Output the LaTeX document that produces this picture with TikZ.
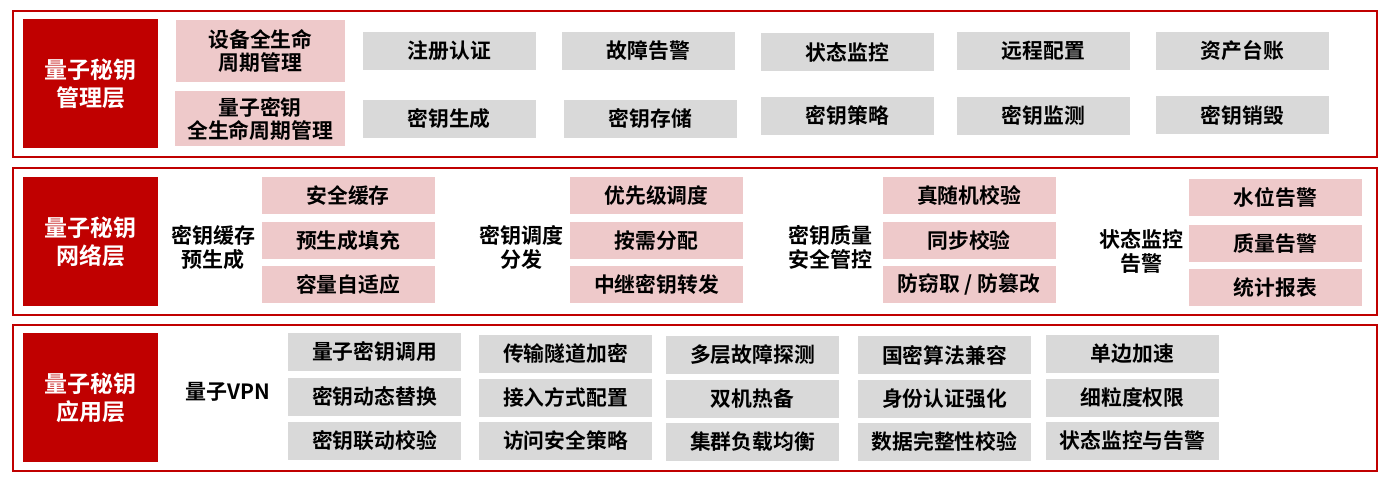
\documentclass[tikz,border=0pt]{standalone}
\usepackage{fontspec}
\setmainfont{Noto Sans CJK SC}[BoldFont={* Bold}]
\usepackage{tikz}
\usetikzlibrary{positioning}
\definecolor{darkred}{HTML}{C00000}
\definecolor{pinkfill}{HTML}{EEC9CA}
\definecolor{grayfill}{HTML}{D9D9D9}

\begin{document}
\begin{tikzpicture}[x=1pt, y=-1pt,
    every node/.style={font=\bfseries\fontsize{20.8}{23}\selectfont, align=center, inner sep=0pt},
    frame/.style={draw=darkred, line width=2pt},
    title/.style={fill=darkred, text=white, minimum width=135pt, minimum height=129pt,
        font=\bfseries\fontsize{23}{28}\selectfont},
    graybox/.style={fill=grayfill, minimum width=173pt, minimum height=38pt},
    pinkbox/.style={fill=pinkfill, minimum width=173pt, minimum height=37pt},
    label/.style={font=\bfseries\fontsize{21}{24}\selectfont}]
    \useasboundingbox (0,0) rectangle (1390,481);
    \draw[frame] (12.5,11) rectangle (1377,157);
    \draw[frame] (12.5,168) rectangle (1377,315);
    \draw[frame] (12.5,325) rectangle (1377,471);

    \node[title] (T1) at (90.5,83.5) {量子秘钥\\管理层};
    \node[pinkbox, minimum width=169pt, minimum height=62pt] (Sb) at (260.5,51) {设备全生命\\周期管理};
    \node[pinkbox, minimum width=170pt, minimum height=55pt] (Lz) at (260,118.5) {量子密钥\\全生命周期管理};
    \node[graybox] (Zc) at (449.5,51) {注册认证};
    \node[graybox] (Gz) at (648.5,51) {故障告警};
    \node[graybox] (Zt) at (847.5,52.5) {状态监控};
    \node[graybox] (Yc) at (1043.5,51) {远程配置};
    \node[graybox] (Zz) at (1242.5,51) {资产台账};
    \node[graybox] (Ms) at (449,119) {密钥生成};
    \node[graybox] (Mc) at (650.5,119) {密钥存储};
    \node[graybox] (Ml) at (847.5,116) {密钥策略};
    \node[graybox] (Mj) at (1043.5,116) {密钥监测};
    \node[graybox] (Mx) at (1242.5,115.5) {密钥销毁};

    \node[title] (T2) at (90.5,241.5) {量子秘钥\\网络层};
    \node[label] (Hc) at (213,247) {密钥缓存\\预生成};
    \node[pinkbox] (Aq) at (348,195.5) {安全缓存};
    \node[pinkbox] (Ys) at (348,240.5) {预生成填充};
    \node[pinkbox] (Rl) at (348,284.5) {容量自适应};
    \node[label] (Dd) at (521,247) {密钥调度\\分发};
    \node[pinkbox] (Yx) at (656.5,195.5) {优先级调度};
    \node[pinkbox] (Ax) at (656.5,240.5) {按需分配};
    \node[pinkbox] (Zj) at (656.5,284.5) {中继密钥转发};
    \node[label] (Zl) at (830,247) {密钥质量\\安全管控};
    \node[pinkbox] (Zs) at (969,195.5) {真随机校验};
    \node[pinkbox] (Tb) at (969,240.5) {同步校验};
    \node[pinkbox] (Fq) at (969,284.5) {防窃取 / 防篡改};
    \node[label] (Jk) at (1141,251) {状态监控\\告警};
    \node[pinkbox] (Sw) at (1275.5,197.5) {水位告警};
    \node[pinkbox] (Zg) at (1275.5,243.5) {质量告警};
    \node[pinkbox] (Tj) at (1275.5,287.5) {统计报表};

    \node[title] (T3) at (90.5,397.5) {量子秘钥\\应用层};
    \node[label] (Vpn) at (227.5,392) {量子VPN};
    \node[graybox] (Dy) at (374.5,352) {量子密钥调用};
    \node[graybox] (Th) at (374.5,397) {密钥动态替换};
    \node[graybox] (Ld) at (374.5,440.5) {密钥联动校验};
    \node[graybox] (Sd) at (565.5,353.5) {传输隧道加密};
    \node[graybox] (Jr) at (565.5,397.5) {接入方式配置};
    \node[graybox] (Fw) at (565.5,441) {访问安全策略};
    \node[graybox] (Gt) at (752.5,355) {多层故障探测};
    \node[graybox] (Rb) at (752.5,398.5) {双机热备};
    \node[graybox] (Fz) at (752.5,442) {集群负载均衡};
    \node[graybox] (Gm) at (944.5,355) {国密算法兼容};
    \node[graybox] (Sf) at (944.5,398.5) {身份认证强化};
    \node[graybox] (Wz) at (944.5,442) {数据完整性校验};
    \node[graybox] (Bj) at (1132.5,353.5) {单边加速};
    \node[graybox] (Xl) at (1132.5,397.5) {细粒度权限};
    \node[graybox] (Gj) at (1132.5,440.5) {状态监控与告警};
\end{tikzpicture}
\end{document}
